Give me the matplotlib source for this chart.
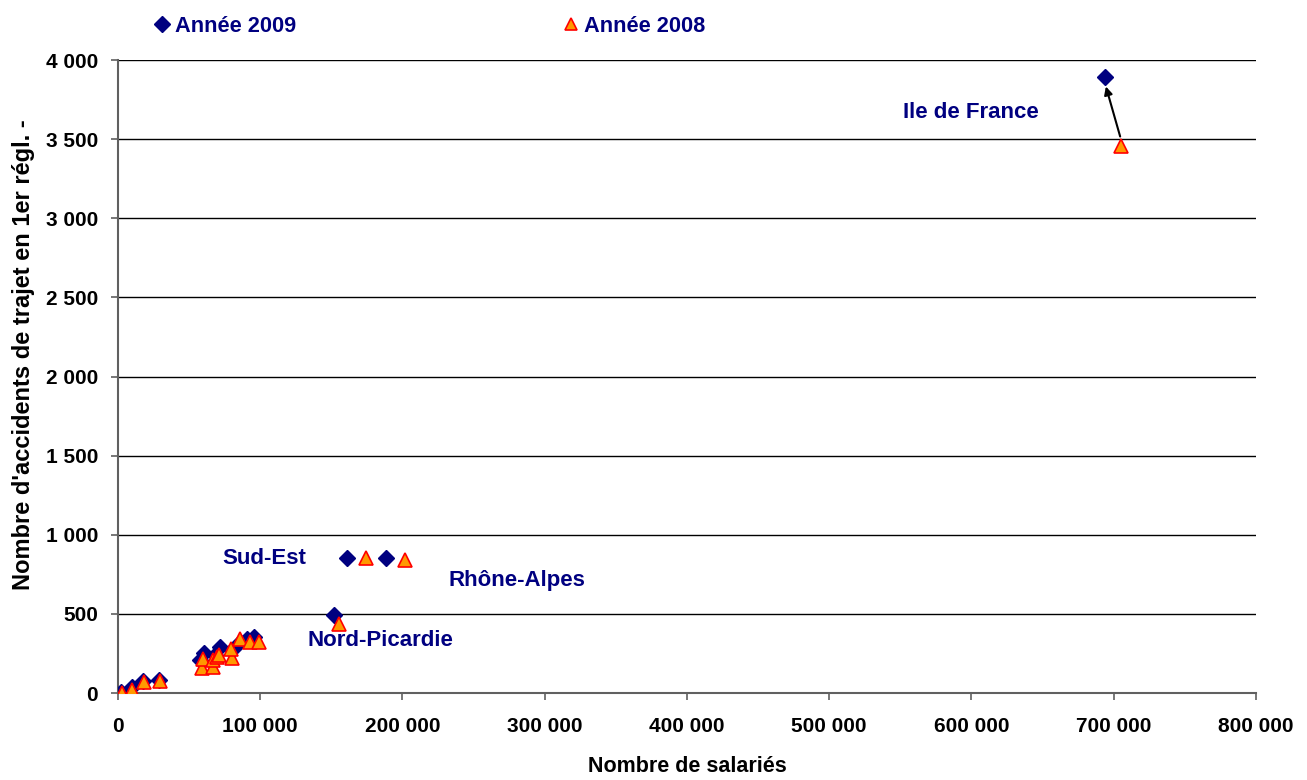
import numpy as np
import matplotlib
matplotlib.use("Agg")
import matplotlib.pyplot as plt

plt.rcParams['font.family'] = ['Liberation Sans', 'DejaVu Sans']
plt.rcParams['font.weight'] = 'bold'

NAVY = '#000080'

# Année 2009 : (salariés, accidents)
x2009 = [1900, 9600, 17800, 29000, 57600, 60700, 68200, 71700, 79900, 85800, 90500, 95600,
         151800, 161000, 188400, 694000]
y2009 = [8, 40, 78, 82, 208, 255, 240, 293, 272, 324, 339, 356,
         493, 855, 855, 3890]

# Année 2008
x2008 = [2600, 10000, 18300, 29500, 58800, 60000, 67000, 67000, 69400, 71200, 79900, 79500,
         85800, 92800, 98900, 155400, 174300, 201800, 705100]
y2008 = [0, 19, 72, 78, 156, 213, 166, 208, 225, 240, 219, 276,
         339, 324, 324, 436, 855, 840, 3460]

regions = ['Ile de France', 'Sud-Est', 'Rhône-Alpes', 'Nord-Picardie']
region_pos = [(551800, 3670), (73100, 850), (232000, 708), (132900, 330)]

fig = plt.figure(figsize=(13.07, 7.8), dpi=100)
ax = fig.add_axes([0.0903, 0.1115, 0.8706, 0.8115])

ax.plot(x2009, y2009, 'D', color=NAVY, markersize=8, markeredgecolor=NAVY,
        label='Année 2009', zorder=3)
ax.plot(x2008, y2008, '^', markerfacecolor='#FF9900', markeredgecolor='#FF0000',
        markersize=10, markeredgewidth=1.2, label='Année 2008', zorder=4)

# Ile de France : évolution 2008 -> 2009
ax.annotate('', xy=(x2009[-1], y2009[-1] - 40), xytext=(x2008[-1], y2008[-1] + 40),
            arrowprops=dict(arrowstyle='-|>', color='black', lw=1.5, mutation_scale=12))

for name, (px, py) in zip(regions, region_pos):
    ax.text(px, py, name, color=NAVY, fontsize=16, fontweight='bold', va='center', ha='left')

ax.set_xlim(0, 800000)
ax.set_ylim(0, 4000)
ax.set_xticks(np.arange(0, 800001, 100000))
ax.set_yticks(np.arange(0, 4001, 500))
fmt = lambda v: '{:,.0f}'.format(v).replace(',', ' ')
ax.set_xticklabels([fmt(v) for v in ax.get_xticks()])
ax.set_yticklabels([fmt(v) for v in ax.get_yticks()])
ax.tick_params(labelsize=15, direction='out', length=5, color='#606060', width=1.2)
ax.tick_params(axis='x', pad=12.5)
ax.tick_params(axis='y', pad=9.4)
ax.yaxis.grid(True, color='black', lw=1)
ax.set_axisbelow(True)
for s in ['top', 'right']:
    ax.spines[s].set_visible(False)
for s in ['left', 'bottom']:
    ax.spines[s].set_color('#606060')
    ax.spines[s].set_linewidth(1.5)

ax.set_xlabel('Nombre de salariés', fontsize=15.5, fontweight='bold')
ax.set_ylabel("Nombre d'accidents de trajet en 1er régl. -", fontsize=17, fontweight='bold')
ax.xaxis.set_label_coords(0.5, -0.100)
ax.yaxis.set_label_coords(-0.073, 0.534)

leg = fig.legend(loc='upper left', bbox_to_anchor=(0.104, 1.005), ncol=2, frameon=False,
                 columnspacing=12.3, handlelength=0.6, handletextpad=0.3,
                 prop={'weight': 'bold', 'size': 15.7})
for t in leg.get_texts():
    t.set_color(NAVY)
for h in leg.legend_handles:
    h.set_markersize(8)

fig.savefig('out.png', dpi=100)
